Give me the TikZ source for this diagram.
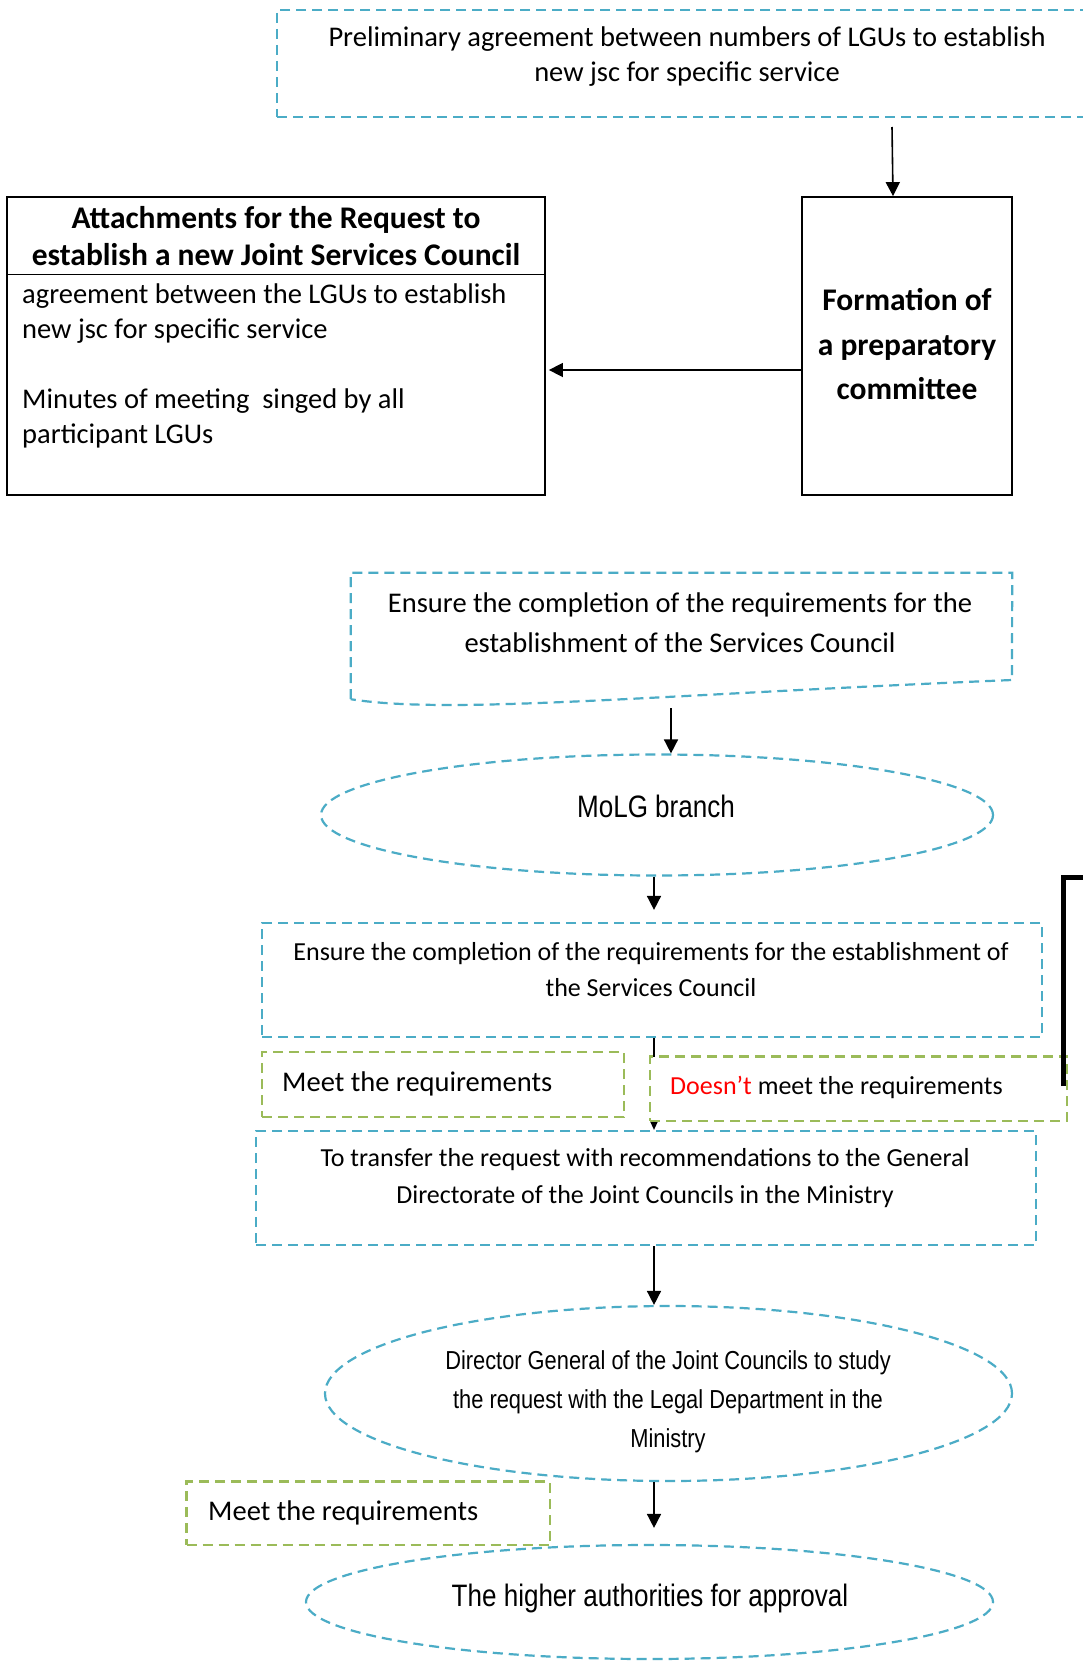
\documentclass[tikz,border=0pt]{standalone}
\usepackage{fontspec}
\setmainfont{Carlito}
\newfontfamily\narrowsans[FakeStretch=0.84]{Liberation Sans}
\usetikzlibrary{shapes.geometric,arrows.meta}
\definecolor{aqua}{HTML}{4BACC6}
\definecolor{leaf}{HTML}{9BBB59}
\definecolor{alert}{HTML}{FF0000}
\newcommand\ftA{\fontsize{28.5}{35}\selectfont}
\newcommand\ftEns{\fontsize{28.5}{40}\selectfont}
\newcommand\ftTitle{\bfseries\fontsize{31.5}{37}\selectfont}
\newcommand\ftForm{\bfseries\fontsize{31.5}{44.5}\selectfont}
\newcommand\ftOval{\narrowsans\fontsize{31}{37}\selectfont}
\newcommand\ftOvalSmall{\narrowsans\fontsize{26}{39}\selectfont}
\begin{document}
\begin{tikzpicture}[x=1pt,y=-1pt,
  blueline/.style={draw=aqua,line width=2.2pt,dash pattern=on 10pt off 6pt},
  bluebox/.style={blueline,rectangle,inner sep=0pt},
  blueoval/.style={blueline,ellipse,inner sep=0pt},
  greenbox/.style={draw=leaf,fill=white,line width=2.2pt,dash pattern=on 10pt off 6pt,rectangle,inner sep=0pt},
  blackbox/.style={draw=black,line width=1.8pt,rectangle,inner sep=0pt},
  txt/.style={inner sep=0pt,align=center},
  lefttxt/.style={inner sep=0pt,align=left,anchor=west},
  arr/.style={-{Triangle[length=14pt,width=14pt]},line width=1.6pt},
  smallarr/.style={-{Triangle[length=8pt,width=7pt]},line width=1.2pt}]
\useasboundingbox (0,0) rectangle (1083,1662);
\fill[white] (0,0) rectangle (1083,1662);
\clip (0,0) rectangle (1083,1662);

% starting point
\node[bluebox,minimum width=833pt,minimum height=107pt] (top) at (693.5,63.5) {};
\node[txt,font=\ftA] (toptext) at (687,57)
  {Preliminary agreement between numbers of LGUs to establish\\new jsc for specific service};

% attachments table
\node[blackbox,minimum width=538pt,minimum height=298pt] (att) at (276,346) {};
\coordinate (divy) at (0,274.5);
\draw[line width=1.5pt] (att.west |- divy) -- (att.east |- divy);
\node[txt,font=\ftTitle] (atttitle) at (276,236.5)
  {Attachments for the Request to\\establish a new Joint Services Council};
\node[lefttxt,font=\ftA] (attitems) at (22,365.5)
  {agreement between the LGUs to establish\\new jsc for specific service\\[35pt]Minutes of meeting\ \ singed by all\\participant LGUs};

% preparatory committee
\node[blackbox,minimum width=210pt,minimum height=298pt] (form) at (907,346) {};
\node[txt,font=\ftForm] (formtext) at (907,344.5) {Formation of\\a preparatory\\committee};

\coordinate (a1) at (892,127);
\draw[arr] (a1) -- ([xshift=-14pt]form.north);
\coordinate (lvl) at (0,370);
\draw[arr,shorten >=3pt] (form.west |- lvl) -- (att.east |- lvl);

% first check (document shape)
\node[inner sep=0pt,minimum width=661pt,minimum height=126pt] (ens1) at (681.5,636) {};
\draw[blueline] (ens1.south west) -- (ens1.north west) -- (ens1.north east) -- (1012,680)
  .. controls (650,695) and (450,715) .. (ens1.south west);
\node[txt,font=\ftEns] (ens1text) at (680,623)
  {Ensure the completion of the requirements for the\\establishment of the Services Council};

% MoLG branch
\node[blueoval,minimum width=672pt,minimum height=121pt] (molg) at (657,815) {};
\node[txt,font=\ftOval] (molgtext) at (656,806) {MoLG branch};
\coordinate (a3) at (671,708);
\draw[arr] (a3) -- (a3 |- molg.north);

% second check
\coordinate (c4) at (654,0);
\node[bluebox,minimum width=780pt,minimum height=114pt] (ens2) at (652,980) {};
\node[txt,font={\fontsize{26}{36}\selectfont}] (ens2text) at (651,969.5)
  {Ensure the completion of the requirements for the establishment of\\the Services Council};
\draw[arr,shorten >=12pt] (molg.south -| c4) -- (ens2.north -| c4);

% transfer to the ministry
\node[bluebox,minimum width=780pt,minimum height=114pt] (trans) at (646,1188) {};
\node[txt,font={\fontsize{26}{37}\selectfont}] (transtext) at (645,1178.5)
  {To transfer the request with recommendations to the General\\Directorate of the Joint Councils in the Ministry};
\draw[smallarr] (ens2.south -| c4) -- (trans.north -| c4);

% outcomes
\node[greenbox,minimum width=362pt,minimum height=65pt] (meet1) at (443,1084.5) {};
\node[lefttxt,font=\ftA] (meet1text) at (282,1084) {Meet the requirements};
\node[greenbox,minimum width=417pt,minimum height=64.5pt] (doesnt) at (858.5,1088.75) {};
\node[lefttxt,font={\fontsize{26}{32}\selectfont}] (doesnttext) at (670,1087)
  {{\color{alert}Doesn’t} meet the requirements};
\coordinate (loopfoot) at (1063,1086);
\coordinate (looptop) at (1095,877);
\draw[line width=5pt] (loopfoot) |- (looptop);

% Director General
\node[blueoval,minimum width=687pt,minimum height=175pt] (dir) at (668.5,1393.5) {};
\node[txt,font=\ftOvalSmall] (dirtext) at (668,1402)
  {Director General of the Joint Councils to study\\the request with the Legal Department in the\\Ministry};
\draw[arr] (trans.south -| c4) -- (dir.north -| c4);

% approval
\node[blueoval,minimum width=687pt,minimum height=114pt] (higher) at (649.5,1602) {};
\node[txt,font=\ftOval] (highertext) at (650,1598) {The higher authorities for approval};
\draw[arr,shorten >=16pt] (dir.south -| c4) -- (higher.north -| c4);
\node[greenbox,minimum width=363.5pt,minimum height=63.5pt] (meet2) at (368.25,1513.25) {};
\node[lefttxt,font=\ftA] (meet2text) at (208,1513) {Meet the requirements};
\end{tikzpicture}
\end{document}
